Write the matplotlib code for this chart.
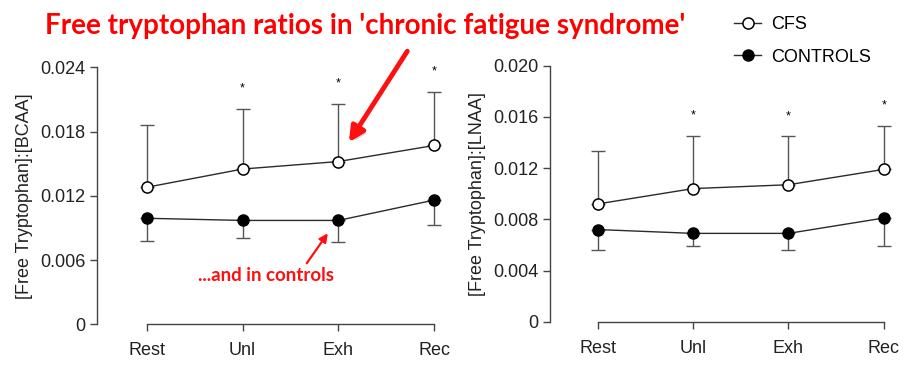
import matplotlib
matplotlib.use("Agg")
from matplotlib import pyplot as plt
import matplotlib.patheffects as pe
import numpy as np

plt.rcParams['font.family'] = ['Liberation Sans', 'DejaVu Sans']

# stages along the x axis
stages = ['Rest', 'Unl', 'Exh', 'Rec']

# [Free Tryptophan]:[BCAA]
bcaa_cfs = [0.0128, 0.0145, 0.0152, 0.0167]
bcaa_cfs_err = [0.0058, 0.0056, 0.0054, 0.0050]       # upper bars only
bcaa_ctrl = [0.0099, 0.0097, 0.0097, 0.0116]
bcaa_ctrl_err = [0.0021, 0.0016, 0.0020, 0.0023]      # lower bars only
bcaa_star_idx = [1, 2, 3]
bcaa_star_y = [0.0220, 0.0225, 0.0236]

# [Free Tryptophan]:[LNAA]
lnaa_cfs = [0.0092, 0.0104, 0.0107, 0.0119]
lnaa_cfs_err = [0.0041, 0.0041, 0.0038, 0.0034]
lnaa_ctrl = [0.0072, 0.0069, 0.0069, 0.0081]
lnaa_ctrl_err = [0.0016, 0.0010, 0.0013, 0.0022]
lnaa_star_idx = [1, 2, 3]
lnaa_star_y = [0.0161, 0.0160, 0.0169]

W, H = 922, 374
fig = plt.figure(figsize=(W / 100, H / 100), dpi=100)

line_c = '#2b2b2b'
err_c = '#555555'


def panel(rect, cfs, cfs_err, ctrl, ctrl_err, star_idx, star_y, ymax, yticks,
          ylabel):
    ax = fig.add_axes(rect)
    x = np.arange(len(stages))
    ax.errorbar(x, cfs, yerr=[np.zeros(4), cfs_err], fmt='none',
                ecolor=err_c, elinewidth=1.0, capsize=5, capthick=1.0,
                zorder=1)
    ax.errorbar(x, ctrl, yerr=[ctrl_err, np.zeros(4)], fmt='none',
                ecolor=err_c, elinewidth=1.0, capsize=5, capthick=1.0,
                zorder=1)
    l1, = ax.plot(x, cfs, '-o', color=line_c, lw=1.0, ms=8,
                  mfc='white', mec='black', mew=1.1, zorder=3, label='CFS')
    l2, = ax.plot(x, ctrl, '-o', color=line_c, lw=1.0, ms=8,
                  mfc='black', mec='black', zorder=3, label='CONTROLS')
    for i, yv in zip(star_idx, star_y):
        ax.text(x[i], yv, '*', ha='center', va='center', fontsize=9,
                color='black')
    ax.set_ylim(0, ymax)
    ax.set_yticks(yticks)
    ax.set_yticklabels(['0'] + [f'{v:.3f}' for v in yticks[1:]])
    ax.set_xticks(x)
    ax.set_xticklabels(stages)
    ax.spines[['top', 'right']].set_visible(False)
    ax.spines['bottom'].set_bounds(0, 3)
    for s in ['left', 'bottom']:
        ax.spines[s].set_color('#444444')
        ax.spines[s].set_linewidth(1.0)
    ax.tick_params(axis='both', direction='out', length=5, width=1.0,
                   color='#444444', labelsize=13, labelcolor='#222222')
    ax.tick_params(axis='x', pad=8)
    ax.set_ylabel(ylabel, fontsize=13, color='#222222', labelpad=5)
    ax.patch.set_visible(False)
    return ax, l1, l2


# left panel: y axis at px 97, Rest at 147, Rec at 434
ax1, h1, h2 = panel([97 / W, 49.7 / H, 356 / W, 257 / H],
                    bcaa_cfs, bcaa_cfs_err, bcaa_ctrl, bcaa_ctrl_err,
                    bcaa_star_idx, bcaa_star_y, 0.024,
                    [0, 0.006, 0.012, 0.018, 0.024],
                    '[Free Tryptophan]:[BCAA]')
ax1.set_xlim(-0.522, 3.198)

ax2, _, _ = panel([550 / W, 52.3 / H, 352 / W, 256 / H],
                  lnaa_cfs, lnaa_cfs_err, lnaa_ctrl, lnaa_ctrl_err,
                  lnaa_star_idx, lnaa_star_y, 0.020,
                  [0, 0.004, 0.008, 0.012, 0.016, 0.020],
                  '[Free Tryptophan]:[LNAA]')
ax2.set_xlim(-0.5, 3.19)

fig.legend(handles=[h1, h2], loc='center left',
           bbox_to_anchor=(727 / W, 1 - 41 / H), frameon=False,
           fontsize=13, handlelength=1.5, handletextpad=0.55,
           labelspacing=0.85, borderaxespad=0)

# red annotations
fig.text(45 / W, 1 - 26 / H,
         "Free tryptophan ratios in 'chronic fatigue syndrome'",
         fontsize=20, fontweight='bold', color='#ff0000', family='Lato',
         ha='left', va='center')

shadow = [pe.withSimplePatchShadow(offset=(2, -2), shadow_rgbFace='#999999',
                                   alpha=0.5)]
ax1.annotate('', xy=(2.11, 0.0170), xytext=(2.72, 0.0255),
             xycoords='data', textcoords='data', annotation_clip=False,
             arrowprops=dict(arrowstyle='-|>,head_length=0.9,head_width=0.45',
                             color='#ff1010', lw=3.5, shrinkA=0, shrinkB=0,
                             path_effects=shadow))
ax1.annotate('', xy=(1.89, 0.0085), xytext=(1.67, 0.0057),
             xycoords='data', textcoords='data', annotation_clip=False,
             arrowprops=dict(arrowstyle='-|>,head_length=0.5,head_width=0.25',
                             color='#ff1010', lw=1.6, shrinkA=0, shrinkB=0))
ax1.text(1.24, 0.0046, '...and in controls', fontsize=13.5, fontweight='bold',
         color='#ff1010', family='Lato', ha='center', va='center')

fig.savefig('out.png', dpi=100)
